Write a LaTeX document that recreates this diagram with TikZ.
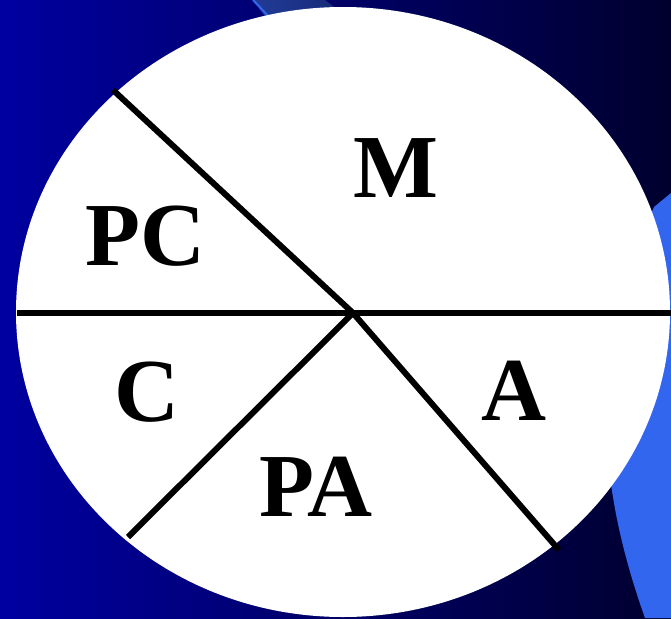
\documentclass[tikz,border=0pt]{standalone}
\usepackage{fontspec}
\setmainfont{Liberation Serif}[BoldFont={Liberation Serif Bold}]
\definecolor{bgleft}{HTML}{0000A0}
\definecolor{bgright}{HTML}{00002E}
\definecolor{swoosh}{HTML}{3366EE}
\definecolor{bandtop}{HTML}{213C98}
\tikzset{
  divider/.style={line width=6pt, black},
  sector/.style={font=\fontsize{90}{90}\selectfont\bfseries, inner sep=0pt, text=black}
}
\begin{document}
\begin{tikzpicture}[x=1pt,y=-1pt]
\useasboundingbox (0,0) rectangle (671,618);
% background
\shade[left color=bgleft, right color=bgright] (0,0) rectangle (671,618);
% top band
\shade[left color=bandtop, right color=bandtop!60!bgright] (253,0) -- (325,0) -- (365,30) -- (275,30) -- cycle;
\draw[swoosh, line width=2pt] (253,0) -- (272,20);
% right swoosh
\fill[swoosh] (671,193) -- (654,207) .. controls (600,330) and (585,450) .. (645,618) -- (671,618) -- cycle;
% disc
\fill[white] (343,312) ellipse [x radius=327, y radius=305];
% dividers
\coordinate (O) at (353,313);
\coordinate (pc) at (113,90);
\coordinate (l) at (17,313);
\coordinate (r) at (671,313);
\coordinate (pa) at (128,537);
\coordinate (a) at (559,550);
\draw[divider] (l) -- (r);
\draw[divider] (pc) -- (O);
\draw[divider] (O) -- (pa);
\draw[divider] (O) -- (a);
% labels
\node[sector] (M) at (396,168) {M};
\node[sector] (PC) at (145,236) {PC};
\node[sector] (C) at (147,392) {C};
\node[sector] (A) at (514,391) {A};
\node[sector] (PA) at (316,487) {PA};
\end{tikzpicture}
\end{document}
